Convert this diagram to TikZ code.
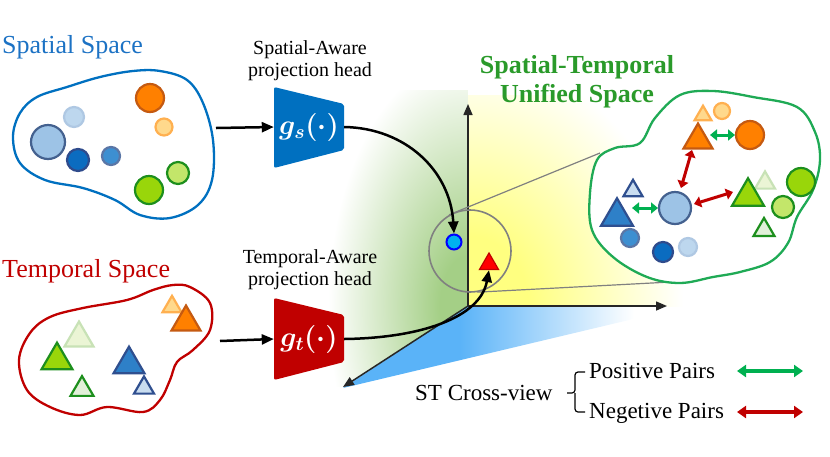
\documentclass[tikz,border=0pt]{standalone}
\usepackage{fix-cm}
\usepackage{bm}
\usepackage{fontspec}
\setmainfont{Liberation Serif}
\usetikzlibrary{arrows.meta,calc,shapes.geometric}
\definecolor{spblue}{HTML}{1C72C4}
\definecolor{blobblue}{HTML}{0070C0}
\definecolor{tpred}{HTML}{C00000}
\definecolor{stgreen}{HTML}{2A9A2A}
\definecolor{blobgreen}{HTML}{1FAA55}
\definecolor{pairgreen}{HTML}{00B050}
\definecolor{shyel}{HTML}{FFFF80}
\definecolor{shgrn}{HTML}{A4CF86}
\definecolor{shblue}{HTML}{5AB3F8}
\definecolor{dotF}{HTML}{00B0F0}
\definecolor{lbF}{HTML}{9DC3E6}\definecolor{lbD}{HTML}{44618F}
\definecolor{fbF}{HTML}{BDD7EE}\definecolor{fbD}{HTML}{AFC8E3}
\definecolor{dbF}{HTML}{0B6CC0}\definecolor{dbD}{HTML}{2F4B8C}
\definecolor{mbF}{HTML}{3D8FD1}\definecolor{mbD}{HTML}{5A76A6}
\definecolor{orF}{HTML}{FF8000}\definecolor{orD}{HTML}{C55A11}
\definecolor{loF}{HTML}{FFD98C}\definecolor{loD}{HTML}{FFB050}
\definecolor{grF}{HTML}{99D60A}\definecolor{grD}{HTML}{1D8F1D}
\definecolor{lgF}{HTML}{C3E66A}
\definecolor{fgF}{HTML}{EBF5D5}\definecolor{fgD}{HTML}{C8E2B6}
\definecolor{ltgF}{HTML}{E2F0D9}
\definecolor{btF}{HTML}{2E80C8}\definecolor{btD}{HTML}{2F4F8F}
\definecolor{sbF}{HTML}{C9DDF0}
\pgfdeclareradialshading{yelfade}{\pgfpoint{0bp}{0bp}}{color(0bp)=(shyel); color(7bp)=(shyel); color(25bp)=(white); color(50bp)=(white)}
\pgfdeclareradialshading{grnfade}{\pgfpoint{0bp}{0bp}}{color(0bp)=(shgrn); color(5bp)=(shgrn); color(25bp)=(white); color(50bp)=(white)}
\pgfdeclarehorizontalshading{bluefade}{100bp}{color(0bp)=(shblue); color(42bp)=(shblue); color(67bp)=(white); color(100bp)=(white)}
\newcommand\ball[4]{\filldraw[#4] (#1,#2) circle (#3pt);}
\newcommand\tri[4]{\filldraw[#4] (#1-#3/2,#2+0.43*#3) -- (#1,#2-0.43*#3) -- (#1+#3/2,#2+0.43*#3) -- cycle;}
\newcommand\gsym{$\bm{g_s(\cdot)}$}
\newcommand\gtsym{$\bm{g_t(\cdot)}$}
\tikzset{
  sh/.style={line width=2.2pt},
  cLB/.style={sh,fill=lbF,draw=lbD}, cFB/.style={sh,fill=fbF,draw=fbD},
  cDB/.style={sh,fill=dbF,draw=dbD}, cMB/.style={sh,fill=mbF,draw=mbD},
  cOR/.style={sh,fill=orF,draw=orD}, cLO/.style={sh,fill=loF,draw=loD},
  cGR/.style={sh,fill=grF,draw=grD}, cLG/.style={sh,fill=lgF,draw=grD},
  tOR/.style={sh,fill=orF,draw=orD,line join=miter}, tLO/.style={sh,fill=loF,draw=loD,line join=miter},
  tFG/.style={sh,fill=fgF,draw=fgD,line join=miter}, tGR/.style={sh,fill=grF,draw=grD,line join=miter},
  tLG/.style={sh,fill=ltgF,draw=grD,line join=miter}, tBL/.style={sh,fill=btF,draw=btD,line join=miter},
  tSB/.style={sh,fill=sbF,draw=btD,line join=miter},
  blob/.style={line width=2.3pt,fill=white},
  flow/.style={line width=2.5pt,-{Triangle[length=12pt,width=10pt]}},
  axis/.style={line width=1.5pt,draw=black!85,-{Triangle[length=11pt,width=9pt]}},
  pairg/.style={line width=3.5pt,draw=pairgreen,{Triangle[length=9pt,width=12pt]}-{Triangle[length=9pt,width=12pt]}},
  pairr/.style={line width=3.5pt,draw=tpred,{Triangle[length=9pt,width=12pt]}-{Triangle[length=9pt,width=12pt]}},
  pairgs/.style={line width=3pt,draw=pairgreen,{Triangle[length=7pt,width=11pt]}-{Triangle[length=7pt,width=11pt]}},
  pairrs/.style={line width=3pt,draw=tpred,{Triangle[length=7pt,width=11pt]}-{Triangle[length=7pt,width=11pt]}},
  lab/.style={font=\fontsize{20}{22}\selectfont,align=center,inner sep=0pt},
  ttl/.style={font=\fontsize{26}{29}\selectfont,inner sep=0pt,anchor=west},
  leg/.style={font=\fontsize{23}{26}\selectfont,inner sep=0pt,anchor=west},
  gfun/.style={text=white,inner sep=0pt,minimum width=70pt,minimum height=80pt,font=\fontsize{28}{30}\selectfont}
}
\begin{document}
\begin{tikzpicture}[x=1pt,y=-1pt]
\useasboundingbox (0,0) rectangle (830,456);
% shaded planes
\begin{scope}
  \clip (468,95) rectangle (690,306);
  \shade[shading=yelfade] (468,306) ellipse (215pt and 250pt);
\end{scope}
\begin{scope}
  \clip (468,90) -- (468,306) -- (343,387) -- (320,387) -- (320,90) -- cycle;
  \shade[shading=grnfade] (468,306) ellipse (140pt and 250pt);
\end{scope}
\begin{scope}
  \clip (468,306) -- (667,306) -- (667,311) -- (343,388) -- cycle;
  \shade[shading=bluefade] (340,300) rectangle (690,395);
\end{scope}
% axes
\coordinate (O) at (468,306);
\coordinate (ay) at (468,104);
\coordinate (ax) at (667,306);
\coordinate (az) at (343,387);
\draw[axis] (O) -- (ay);
\draw[axis] (O) -- (ax);
\draw[axis] (O) -- (az);
% zoom circle and lines
\node[circle,draw=gray,line width=1.6pt,minimum size=82pt,inner sep=0] (zc) at (470,251) {};
\coordinate (zl1) at (600,153);
\coordinate (zl2) at (690,281);
\draw[gray,line width=1.2pt] (zc.120) -- (zl1);
\draw[gray,line width=1.2pt] (zc.-80) -- (zl2);
% blue dot and red triangle
\node[circle,fill=dotF,draw=blue,line width=2pt,minimum size=15pt,inner sep=0] (bdot) at (454,242) {};
\node[regular polygon,regular polygon sides=3,fill=red,draw=tpred,line width=1.2pt,minimum size=22pt,inner sep=0] (rtri) at (489,264) {};

% ---------- spatial space ----------
\node[ttl,text=spblue] (sptitle) at (2,47) {Spatial Space};
\draw[blob,draw=blobblue] plot[smooth cycle,tension=0.6] coordinates {(13,137) (20,113) (37,97) (67,87) (100,77) (133,71) (160,71) (187,80) (203,103) (213,140) (212,180) (198,205) (170,218) (140,215) (115,200) (83,188) (45,180) (20,163)};
\coordinate (sblob) at (216,128);
\ball{74}{117}{10}{cFB}
\ball{48}{142}{17}{cLB}
\ball{78}{160}{11}{cDB}
\ball{111}{156}{9}{cMB}
\ball{150}{98}{14}{cOR}
\ball{164}{127}{8.5}{cLO}
\ball{149}{190}{14}{cGR}
\ball{178}{173}{11}{cLG}

% ---------- temporal space ----------
\node[ttl,text=tpred] (tptitle) at (2,271) {Temporal Space};
\draw[blob,draw=tpred] plot[smooth cycle,tension=0.6] coordinates {(19,360) (30,333) (50,317) (83,308) (127,300) (153,290) (173,285) (190,287) (210,303) (210,330) (193,350) (177,362) (170,380) (160,400) (143,412) (107,407) (80,415) (50,407) (27,390)};
\coordinate (tblob) at (220,341);
\tri{172}{304}{19}{tLO}
\tri{186}{318}{29}{tOR}
\tri{79}{334}{29}{tFG}
\tri{57}{356}{31}{tGR}
\tri{82}{386}{23}{tLG}
\tri{129}{360}{31}{tBL}
\tri{144}{385}{20}{tSB}

% ---------- projection heads ----------
\node[lab] (slab) at (310,61) {Spatial-Aware\\projection head};
\node[lab] (tlab) at (310,270) {Temporal-Aware\\projection head};
\fill[blobblue,rounded corners=2pt] (274,87) -- (344,104) -- (344,150) -- (274,168) -- cycle;
\fill[tpred,rounded corners=2pt] (274,298) -- (344,315) -- (344,362) -- (274,380) -- cycle;
\node[gfun] (gs) at (309,127) {\gsym};
\node[gfun] (gt) at (309,339) {\gtsym};
\draw[flow] (sblob) -- (gs.west);
\draw[flow] (tblob) -- (gt.west);
\draw[flow] (gs.east) .. controls (405,128) and (450,170) .. (bdot.north);
\draw[flow] (gt.east) .. controls (420,338) and (480,318) .. (rtri.south);

% ---------- unified space ----------
\node[font=\fontsize{26}{29}\selectfont\bfseries,text=stgreen,align=center,inner sep=0] (sttitle) at (577,82) {Spatial-Temporal\\Unified Space};
\draw[blob,draw=blobgreen] plot[smooth cycle,tension=0.6] coordinates {(597,160) (615,148) (640,143) (655,118) (680,95) (713,91) (753,97) (797,107) (815,132) (820,160) (813,190) (797,217) (788,243) (770,262) (740,272) (713,277) (680,283) (647,277) (613,257) (592,230) (590,193)};
\tri{703}{113}{17}{tLO}
\ball{722}{111}{8}{cLO}
\tri{698}{136}{29}{tOR}
\ball{750}{135}{14}{cOR}
\draw[pairgs] (710,135) -- (735,135);
\draw[pairrs] (692,150) -- (681,188);
\tri{633}{188}{19}{tSB}
\tri{617}{212}{32}{tBL}
\draw[pairgs] (632,208) -- (658,208);
\ball{675}{208}{16}{cLB}
\draw[pairrs] (694,204) -- (733,192);
\tri{765}{180}{20}{tFG}
\tri{748}{192}{32}{tGR}
\ball{801}{182}{14}{cGR}
\ball{783}{207}{11}{cLG}
\tri{764}{227}{21}{tLG}
\ball{630}{238}{9}{cMB}
\ball{663}{252}{10}{cDB}
\ball{688}{247}{9}{cFB}

% ---------- legend ----------
\node[leg] (stcv) at (415,393) {ST Cross-view};
\node[leg] (pos) at (589,371) {Positive Pairs};
\node[leg] (neg) at (589,413) {Negetive Pairs};
\draw[line width=1.2pt,rounded corners=3pt] (pos.west) ++(-4,1) -| (575,393) -- (567,393);
\draw[line width=1.2pt,rounded corners=3pt] (neg.west) ++(-4,-1) -| (575,393);
\coordinate (pa1) at (737,371); \coordinate (pa2) at (803,371);
\coordinate (na1) at (737,412); \coordinate (na2) at (803,412);
\draw[pairg] (pa1) -- (pa2);
\draw[pairr] (na1) -- (na2);
\end{tikzpicture}
\end{document}
